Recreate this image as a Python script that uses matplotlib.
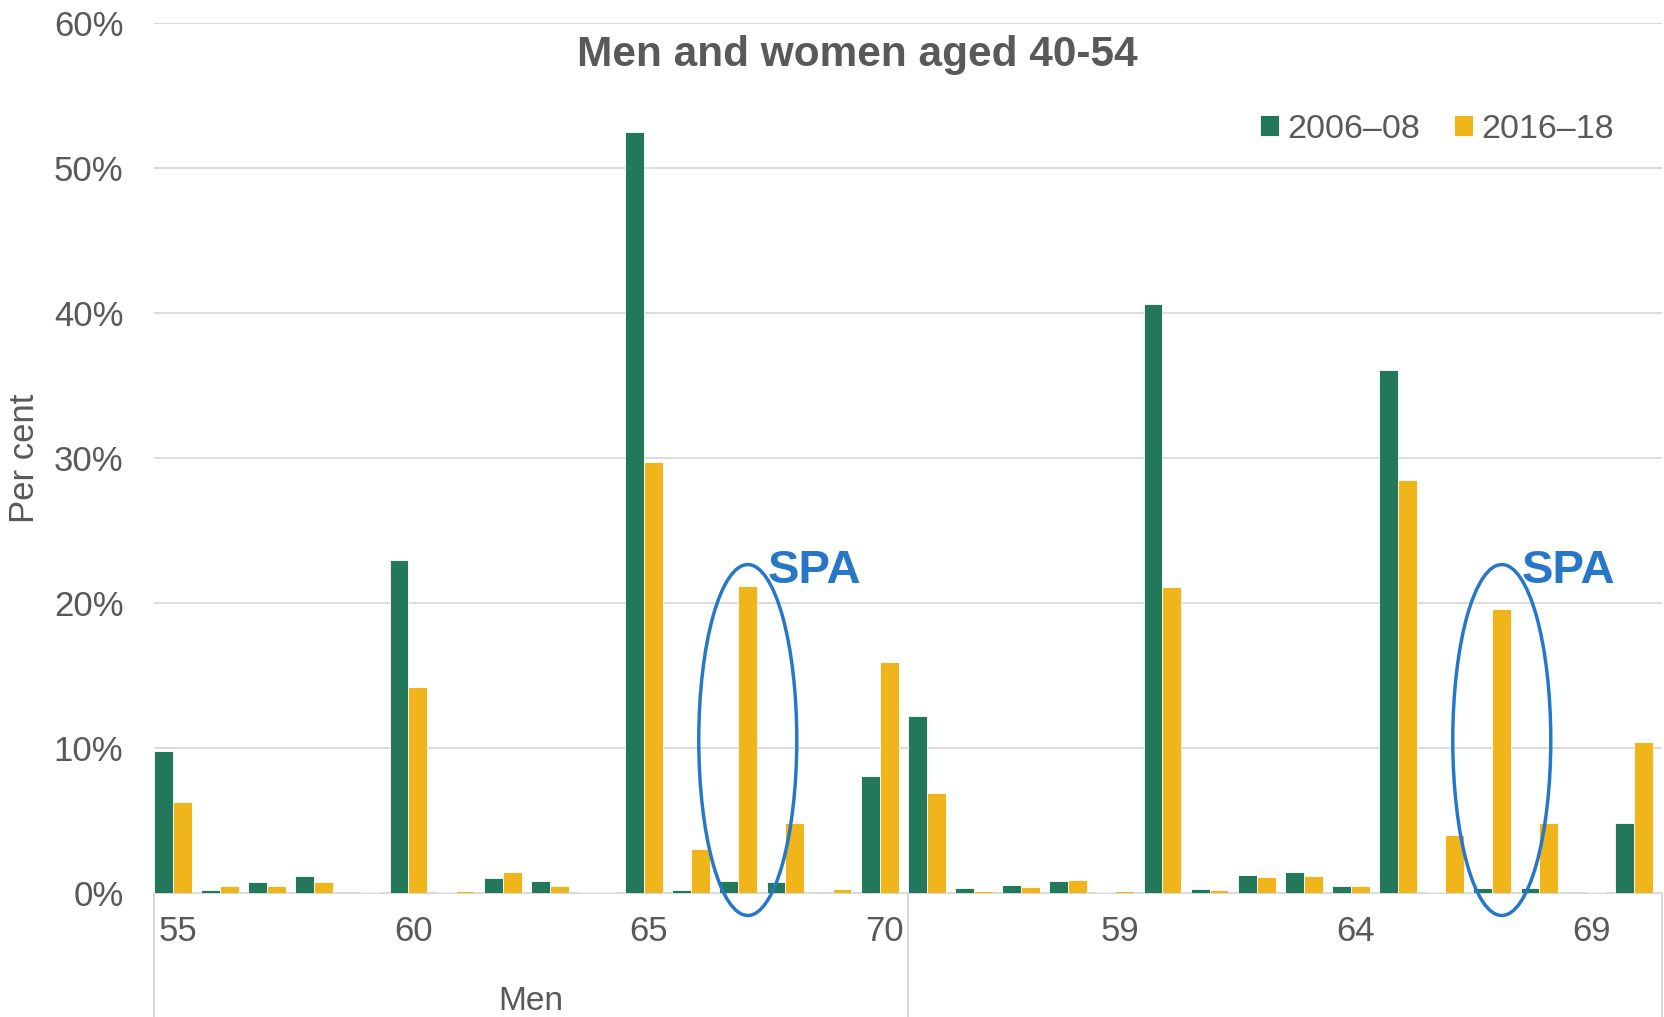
import matplotlib
matplotlib.use("Agg")
import matplotlib.pyplot as plt
from matplotlib.patches import Ellipse
from matplotlib.transforms import blended_transform_factory
import numpy as np

plt.rcParams['font.family'] = ['Liberation Sans', 'DejaVu Sans']

# ages within each group, and the two groups on the axis
ages = list(range(55, 71))
groups = ["Men", "Women"]
series_names = ["2006\u201308", "2016\u201318"]

men_0608 = [9.8, 0.2, 0.75, 1.2, 0.03, 23.0, 0.1, 1.05, 0.85, 0.1, 52.5, 0.2, 0.85, 0.75, 0.0, 8.1]
men_1618 = [6.3, 0.5, 0.5, 0.75, 0.08, 14.2, 0.15, 1.45, 0.45, 0.1, 29.7, 3.05, 21.2, 4.8, 0.25, 15.9]
women_0608 = [12.2, 0.35, 0.55, 0.8, 0.05, 40.6, 0.25, 1.25, 1.45, 0.45, 36.1, 0.05, 0.35, 0.35, 0.0, 4.85]
women_1618 = [6.9, 0.15, 0.4, 0.9, 0.15, 21.1, 0.2, 1.1, 1.2, 0.45, 28.5, 4.0, 19.6, 4.8, 0.05, 10.4]

green = '#23775A'
yellow = '#F0B51A'
grey_text = '#595959'
grid_col = '#D9D9D9'
blue = '#2777C9'

n = len(ages)
cats = np.arange(2 * n)
old = men_0608 + women_0608
new = men_1618 + women_1618

fig = plt.figure(figsize=(16.65, 10.17), dpi=100)
ax = fig.add_axes([154 / 1665, 1 - 893 / 1017, 1508 / 1665, 870 / 1017])

ax.bar(cats, old, width=0.4, align='edge', color=green, edgecolor='white', linewidth=0.6, zorder=3, label=series_names[0])
ax.bar(cats + 0.4, new, width=0.4, align='edge', color=yellow, edgecolor='white', linewidth=0.6, zorder=3, label=series_names[1])

ax.set_xlim(0, 2 * n)
ax.set_ylim(0, 60)
ax.set_yticks(range(0, 61, 10))
ax.set_yticklabels([f"{v}%" for v in range(0, 61, 10)])
ax.grid(axis='y', color=grid_col, linewidth=1.3, zorder=0)
ax.set_axisbelow(True)

# every fifth category gets a label across the whole axis
tick_idx = list(range(0, 2 * n, 5))
ax.set_xticks([i + 0.5 for i in tick_idx])
ax.set_xticklabels([str(ages[i % n]) for i in tick_idx])

for s in ['left', 'right', 'top']:
    ax.spines[s].set_visible(False)
ax.spines['bottom'].set_color(grid_col)
ax.spines['bottom'].set_linewidth(1.5)
ax.tick_params(axis='both', length=0, labelsize=25, labelcolor=grey_text)
ax.tick_params(axis='x', pad=16)
ax.tick_params(axis='y', pad=22)

# group dividers below the axis
trans = blended_transform_factory(ax.transData, ax.transAxes)
for xd in [0, n, 2 * n]:
    ax.plot([xd, xd], [0, -0.2], transform=trans, color=grid_col, linewidth=1.5, clip_on=False)

fig.text(531 / 1665, 1 - 1010 / 1017, groups[0], fontsize=24, color=grey_text, ha='center', va='baseline')

# SPA highlight
for xc in [12.6, n + 12.6]:
    ax.add_patch(Ellipse((xc, 10.55), width=2.08, height=24.2, fill=False, edgecolor=blue, linewidth=2.5, zorder=4, clip_on=False))
    ax.text(xc + 0.43, 21.4, "SPA", fontsize=34, fontweight='bold', color=blue, ha='left', va='baseline', zorder=5)

fig.text(857 / 1665, 1 - 66 / 1017, "Men and women aged 40-54", fontsize=30.5, fontweight='bold', color=grey_text, ha='center', va='baseline')
fig.text(25 / 1665, 1 - 458 / 1017, "Per cent", fontsize=25, color=grey_text, rotation=90, ha='center', va='center')

leg = ax.legend(loc='center', bbox_to_anchor=(1437 / 1665, 1 - 129 / 1017), bbox_transform=fig.transFigure,
                ncol=2, frameon=False, fontsize=24.5, handlelength=0.55, handleheight=0.55,
                handletextpad=0.25, columnspacing=1.0, borderpad=0)
for t in leg.get_texts():
    t.set_color(grey_text)

fig.savefig("out.png", dpi=100)
